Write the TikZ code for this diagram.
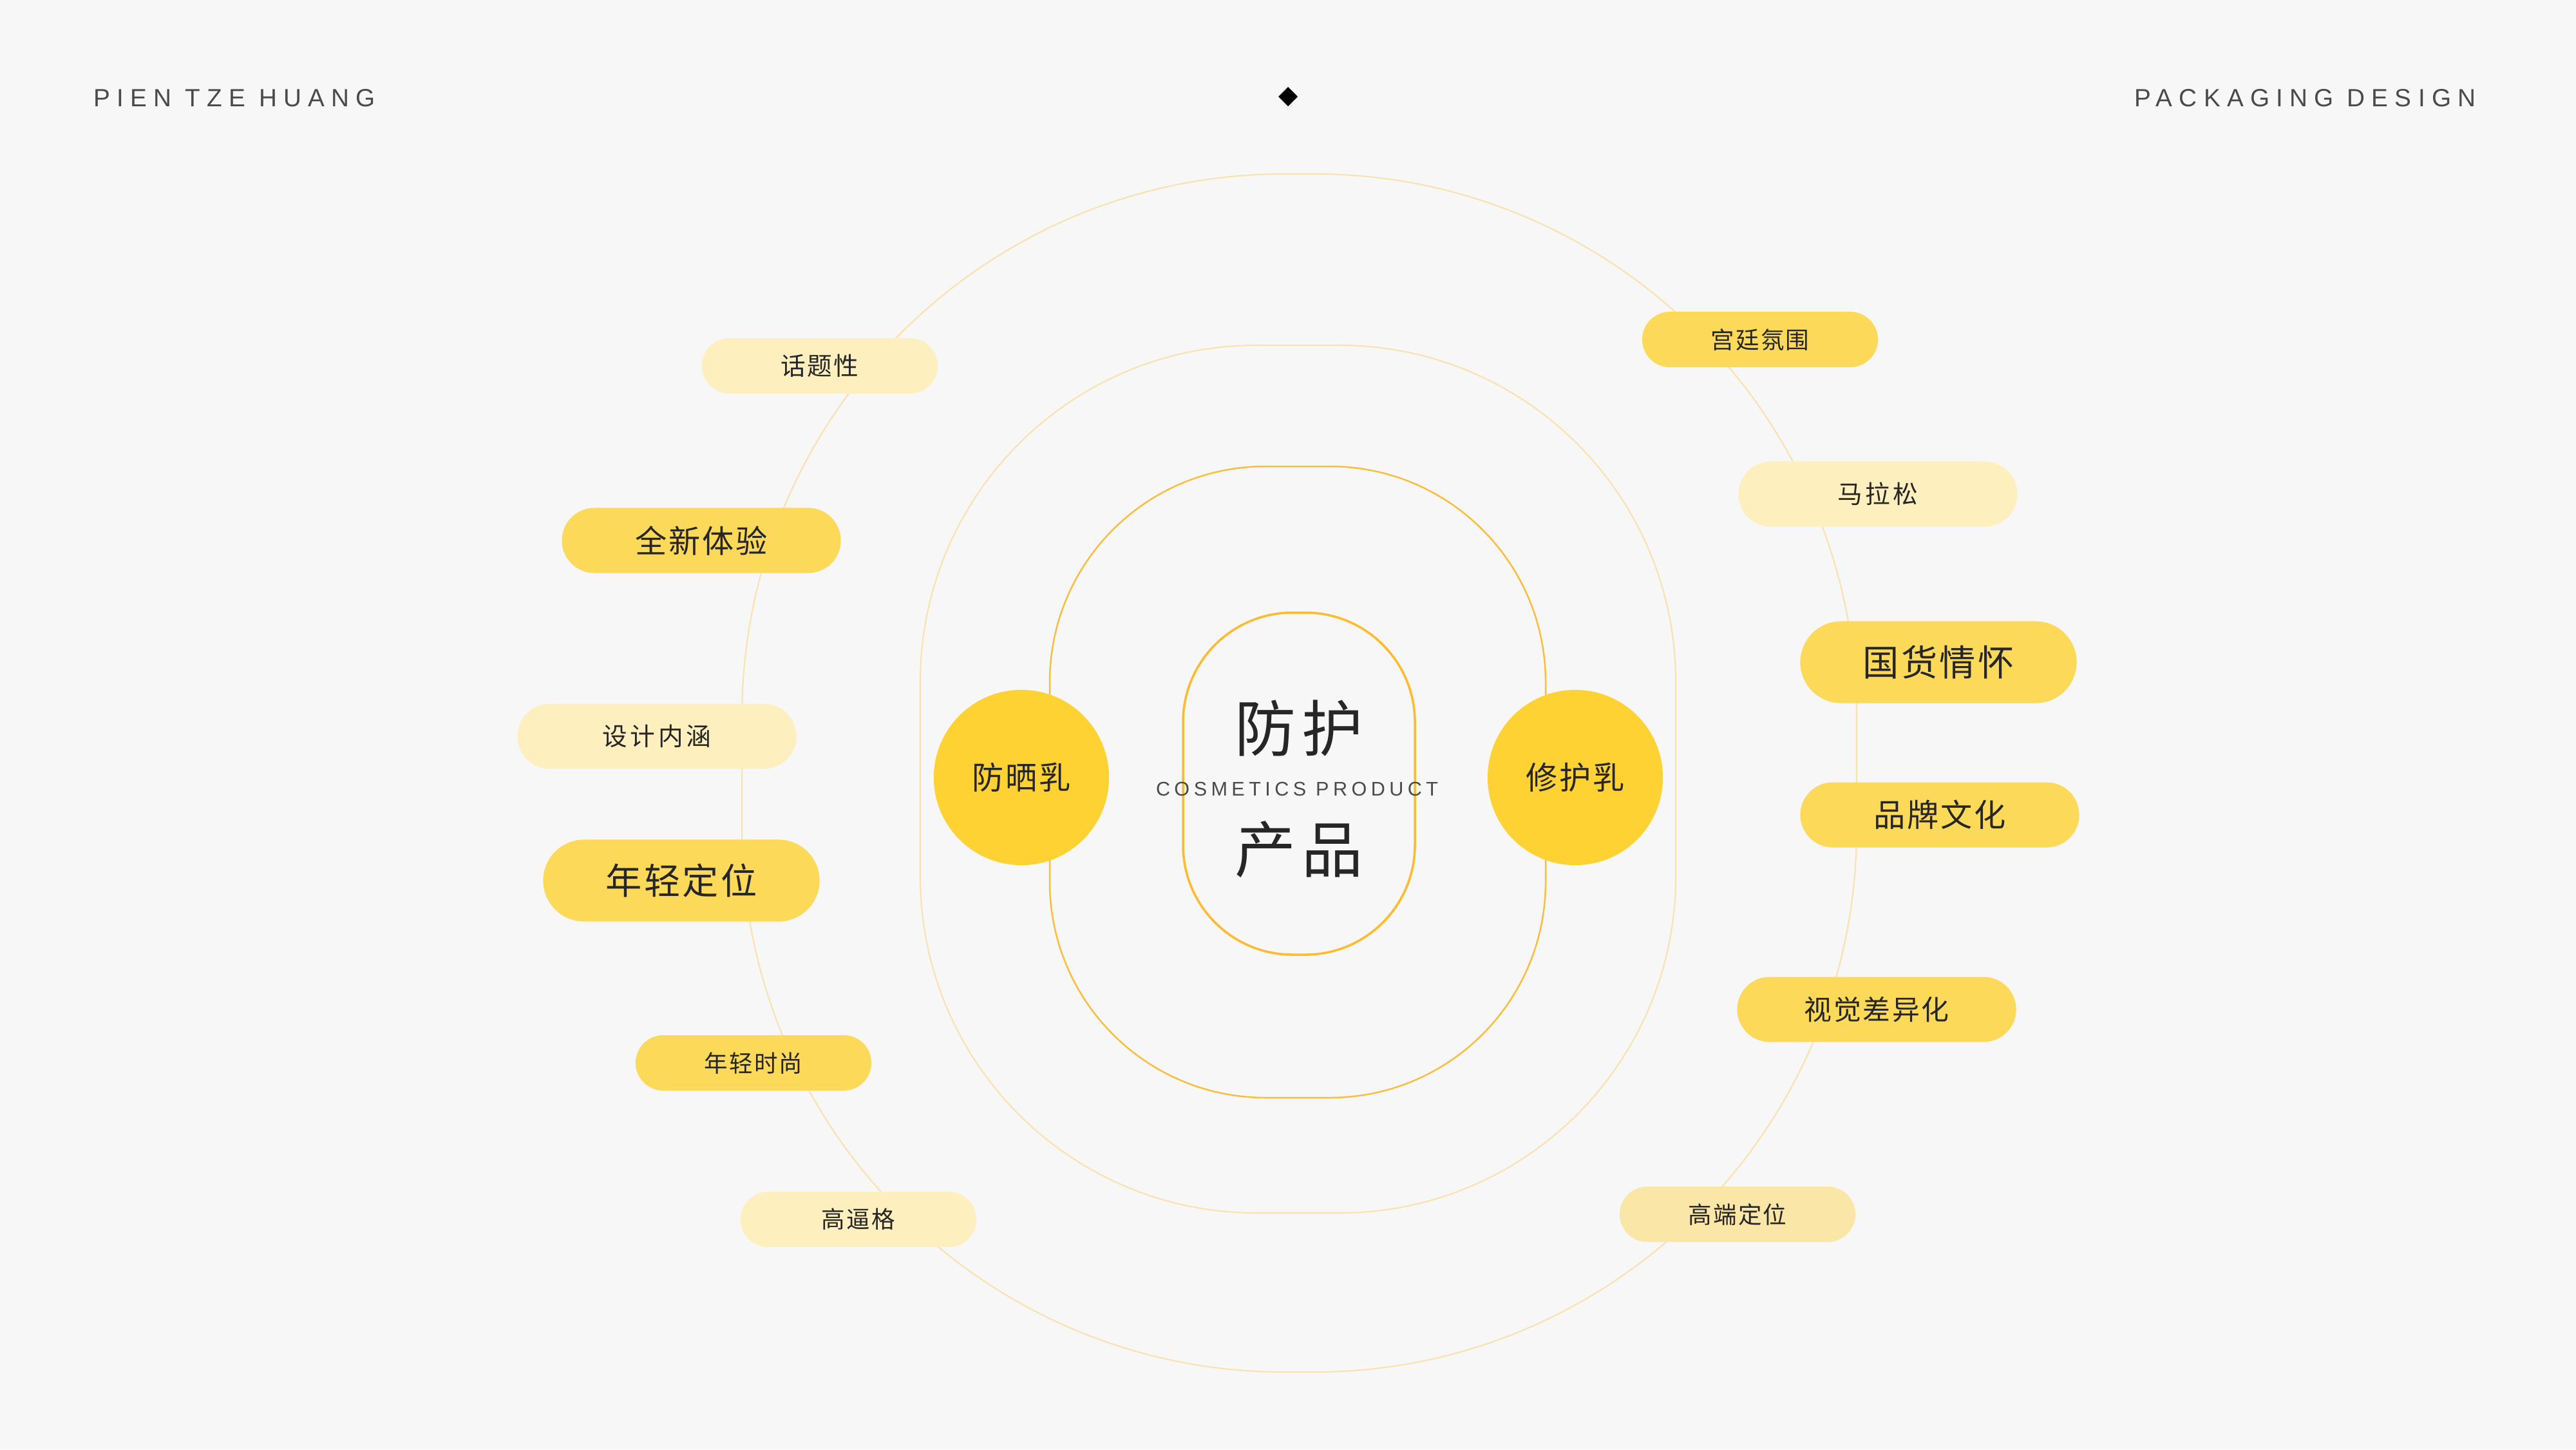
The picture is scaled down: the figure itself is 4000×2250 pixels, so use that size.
\documentclass[tikz,border=0pt]{standalone}
\usepackage{fontspec}
\setmainfont{Liberation Sans}
\newfontfamily\hdrfont[LetterSpace=26.5]{Liberation Sans}
\newfontfamily\cosmfont[LetterSpace=21]{Liberation Sans}
\newfontfamily\cjk[LetterSpace=6]{Noto Sans CJK SC}
\newfontfamily\cjkwide[LetterSpace=12]{Noto Sans CJK SC}
\newfontfamily\cjkbig[LetterSpace=9]{Noto Sans CJK SC}
\definecolor{bg}{HTML}{F7F7F7}
\definecolor{ringpale}{HTML}{F9E2B0}
\definecolor{ringmid}{HTML}{FABD3E}
\definecolor{ringin}{HTML}{FFBA2E}
\definecolor{circ}{HTML}{FFD233}
\definecolor{pyel}{HTML}{FDD95A}
\definecolor{ppale}{HTML}{FEEFBE}
\definecolor{ppale2}{HTML}{FAE6A6}
\definecolor{ink}{HTML}{262626}
\definecolor{hdr}{HTML}{4A4A4A}
\tikzset{
  pillS/.style={minimum width=3.66cm, minimum height=0.86cm, rounded corners=0.43cm, inner sep=0pt, text=ink},
  pillM/.style={minimum width=4.33cm, minimum height=1.01cm, rounded corners=0.505cm, inner sep=0pt, text=ink},
  pillL/.style={minimum width=4.29cm, minimum height=1.27cm, rounded corners=0.635cm, inner sep=0pt, text=ink},
  fs/.style={font=\cjk\fontsize{10.4}{12}\selectfont},
  fm/.style={font=\cjk\fontsize{11}{13}\selectfont},
  fmw/.style={font=\cjkwide\fontsize{11}{13}\selectfont},
  fv/.style={font=\cjk\fontsize{12.2}{14}\selectfont},
  fb/.style={font=\cjk\fontsize{14}{16}\selectfont},
  fl/.style={font=\cjk\fontsize{16}{18}\selectfont},
  bigcirc/.style={circle, fill=circ, minimum size=2.72cm, inner sep=0pt, text=ink, font=\cjk\fontsize{14}{16}\selectfont},
  ringP/.style={draw=ringpale, line width=0.6pt},
  ringM/.style={draw=ringmid, line width=0.7pt},
  ringI/.style={draw=ringin, line width=1pt},
  hdrtext/.style={anchor=base west, inner sep=0pt, text=hdr, font=\hdrfont\fontsize{11}{13}\selectfont}
}
\begin{document}
\begin{tikzpicture}[x=0.01cm,y=-0.01cm]
\fill[bg] (0,0) rectangle (4000,2250);
% rings
\draw[ringP, rounded corners=8.43cm] (1152,270) rectangle (2883,2130);
\draw[ringP, rounded corners=5.22cm] (1429,536) rectangle (2602,1883);
\draw[ringM, rounded corners=3.35cm] (1630,724) rectangle (2400,1704);
\draw[ringI, rounded corners=1.7cm] (1837,951) rectangle (2197,1482);
% header
\node[hdrtext] (brand) at (145,165) {PIEN TZE HUANG};
\node[hdrtext, anchor=base east] (pack) at (3845,165) {PACKAGING DESIGN};
\fill[black] (2000,135) -- (2015,150) -- (2000,165) -- (1985,150) -- cycle;
% center
\node[inner sep=0pt, text=ink, font=\cjkbig\fontsize{27}{30}\selectfont] (t1) at (2017,1131) {防护};
\node[inner sep=0pt, text=ink, font=\cjkbig\fontsize{27}{30}\selectfont] (t2) at (2017,1319) {产品};
\node[anchor=base, inner sep=0pt, text=hdr, font=\cosmfont\fontsize{8.7}{10}\selectfont] (cp) at (2014,1235) {COSMETICS PRODUCT};
% circles
\node[bigcirc] (sun) at (1586,1207) {防晒乳};
\node[bigcirc] (rep) at (2446,1207) {修护乳};
% left pills
\node[pillS, fill=ppale, fm] (l1) at (1273,568) {话题性};
\node[pillM, fill=pyel, fb] (l2) at (1089,839) {全新体验};
\node[pillM, fill=ppale, fmw] (l3) at (1020,1143) {设计内涵};
\node[pillL, fill=pyel, fl] (l4) at (1058,1367) {年轻定位};
\node[pillS, fill=pyel, fs] (l5) at (1170,1650) {年轻时尚};
\node[pillS, fill=ppale, fs] (l6) at (1333,1893) {高逼格};
% right pills
\node[pillS, fill=pyel, fs] (r1) at (2733,527) {宫廷氛围};
\node[pillM, fill=ppale, fmw] (r2) at (2916,767) {马拉松};
\node[pillL, fill=pyel, fl] (r3) at (3010,1028) {国货情怀};
\node[pillM, fill=pyel, fb] (r4) at (3012,1265) {品牌文化};
\node[pillM, fill=pyel, fv] (r5) at (2914,1567) {视觉差异化};
\node[pillS, fill=ppale2, fs] (r6) at (2698,1885) {高端定位};
\end{tikzpicture}
\end{document}
